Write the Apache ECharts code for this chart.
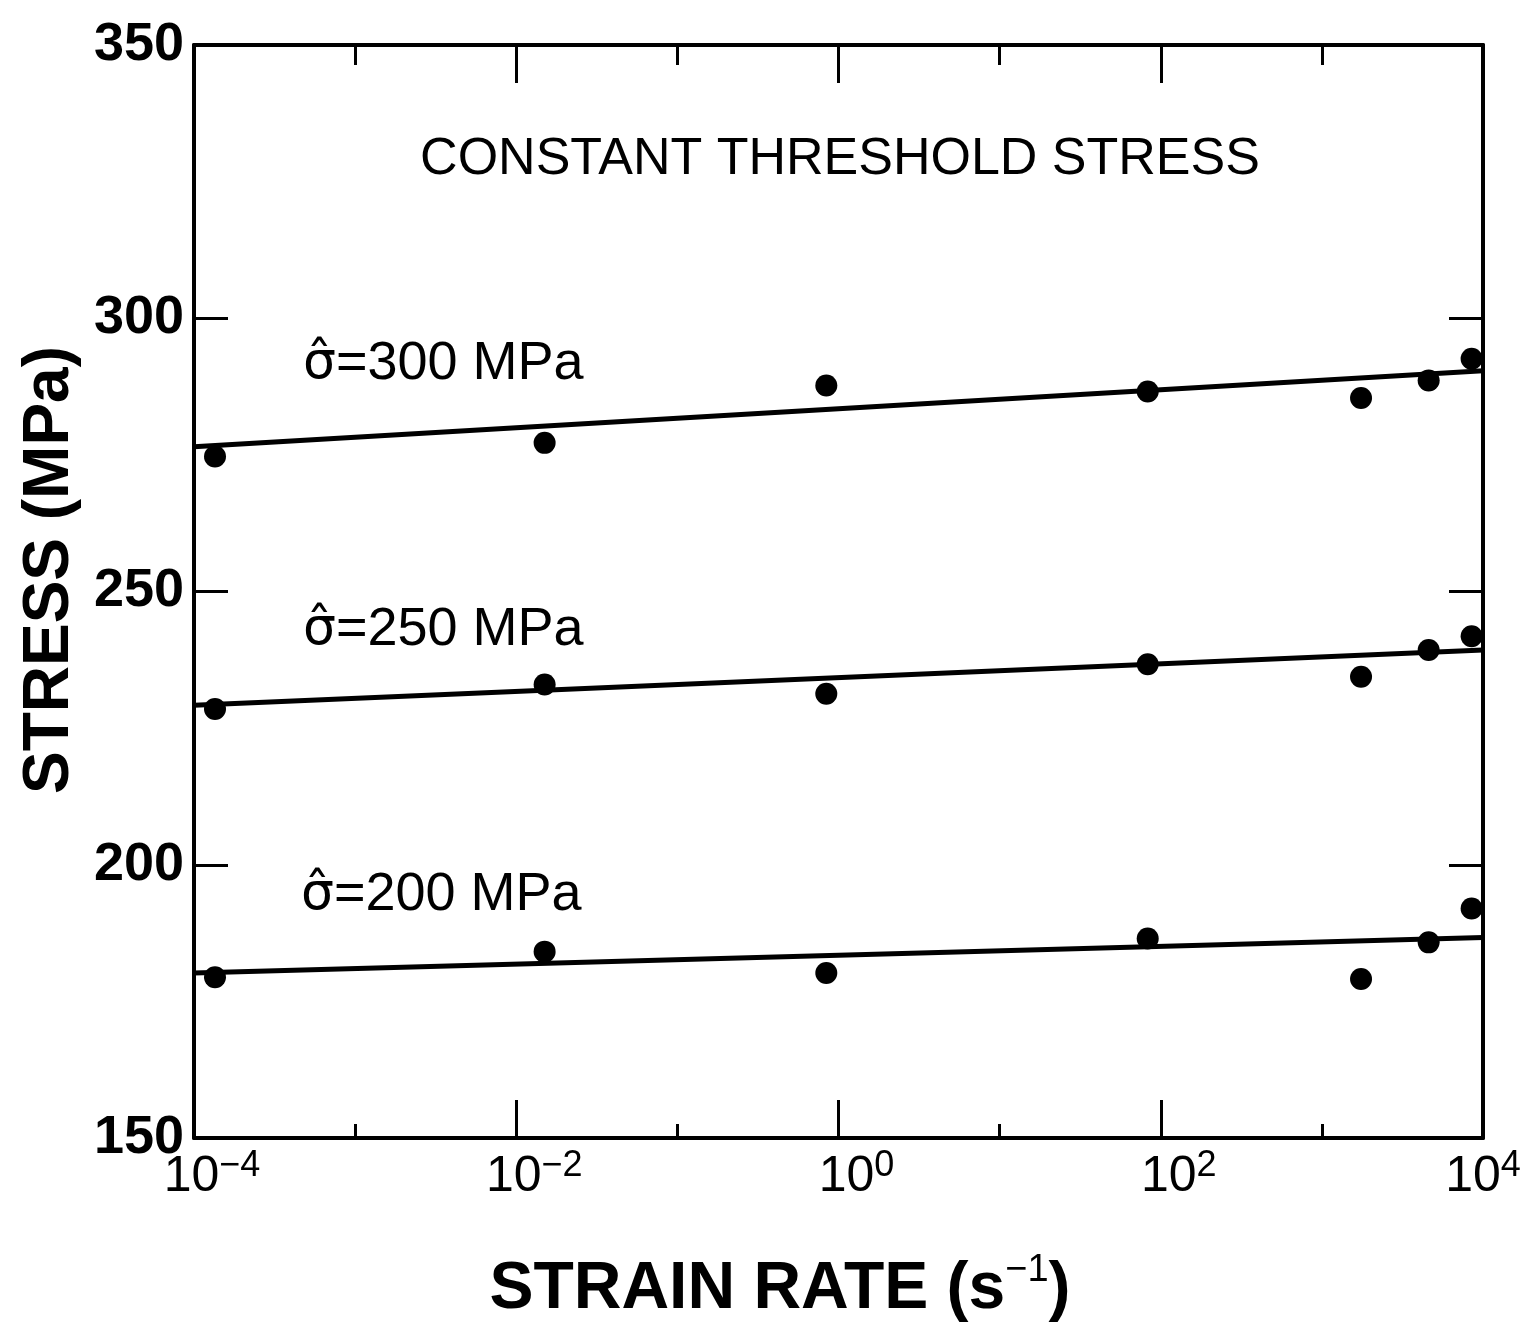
<!DOCTYPE html>
<html><head><meta charset="utf-8">
<script src="https://cdn.jsdelivr.net/npm/echarts@6.0.0/dist/echarts.min.js"></script>
<style>html,body{margin:0;padding:0;background:#fff}#c{width:1525px;height:1328px}</style>
</head><body><div id="c"></div>
<script>
// ---- data ----
const strainRates = [1.35e-4, 0.015, 0.84, 83, 1750, 4600, 8500];
const stress300 = [274.7, 277.2, 287.7, 286.6, 285.4, 288.6, 292.6];
const stress250 = [228.5, 233.0, 231.3, 236.7, 234.4, 239.3, 241.8];
const stress200 = [179.4, 184.1, 180.2, 186.5, 179.1, 185.8, 192.0];
const fitRates = [1e-4, 1e4];
const fit300 = [276.5, 290.4];
const fit250 = [229.2, 239.3];
const fit200 = [180.2, 186.7];
const sigmaHat = 'σ̂';
const seriesLabels = ['=300 MPa', '=250 MPa', '=200 MPa'];
const titleText = 'CONSTANT THRESHOLD STRESS';
const yName = 'STRESS (MPa)';
const xNameMain = 'STRAIN RATE (s';
const xNameSup = '−1';

const FONT = '"Liberation Sans", Arial, Helvetica, sans-serif';
const chart = echarts.init(document.getElementById('c'), null, {renderer: 'canvas'});

function pairs(xs, ys) { return xs.map((x, i) => [x, ys[i]]); }
function expLabel(v) {
  const e = Math.round(Math.log10(v));
  const lead = e >= 4 ? '' : '{p|}';
  return lead + '{b|10}{s|' + (e < 0 ? '−' + (-e) : String(e)) + '}';
}
const lineStyleAxis = {color: '#000', width: 4};
const grid = {left: 194, top: 45, width: 1289, height: 1093, containLabel: false, outerBoundsMode: 'none'};

function scatter(data) {
  return {type: 'scatter', xAxisIndex: 0, yAxisIndex: 0, data: data, symbol: 'circle',
    symbolSize: 22, itemStyle: {color: '#000', opacity: 1}, z: 5};
}
function fitLine(data) {
  return {type: 'line', xAxisIndex: 0, yAxisIndex: 0, data: data, showSymbol: false, symbol: 'none',
    lineStyle: {color: '#000', width: 5}, z: 4, silent: true};
}
function seriesLabel(text, x, y) {
  return {type: 'text', x: x, y: y,
    style: {text: '{g|' + sigmaHat + '}{t|' + text + '}', x: 0, y: 0, textAlign: 'left', textVerticalAlign: 'middle',
      rich: {
        g: {fontFamily: '"DejaVu Sans", sans-serif', fontSize: 52, fill: '#000', lineHeight: 64},
        t: {fontFamily: FONT, fontSize: 54, fill: '#000', lineHeight: 64}
      }}};
}

const option = {
  animation: false,
  backgroundColor: '#fff',
  grid: grid,
  xAxis: [
    {type: 'log', logBase: 100, min: 1e-4, max: 1e4, position: 'bottom',
      axisLine: {show: true, lineStyle: lineStyleAxis},
      axisTick: {show: true, inside: true, length: 38, lineStyle: {color: '#000', width: 3}},
      splitLine: {show: false},
      axisLabel: {show: true, margin: 10, formatter: expLabel, hideOverlap: false,
        rich: {
          p: {width: 36, lineHeight: 58},
          b: {fontFamily: FONT, fontSize: 50, lineHeight: 58, color: '#000'},
          s: {fontFamily: FONT, fontSize: 36, lineHeight: 36, verticalAlign: 'top', color: '#000'}
        }}},
    {type: 'log', logBase: 10, min: 1e-4, max: 1e4, interval: 1, splitNumber: 8, position: 'bottom',
      axisLine: {show: false},
      axisTick: {show: true, inside: true, length: 14, lineStyle: {color: '#000', width: 3}},
      splitLine: {show: false}, axisLabel: {show: false}},
    {type: 'log', logBase: 100, min: 1e-4, max: 1e4, position: 'top',
      axisLine: {show: true, lineStyle: lineStyleAxis},
      axisTick: {show: true, inside: true, length: 38, lineStyle: {color: '#000', width: 3}},
      splitLine: {show: false}, axisLabel: {show: false}},
    {type: 'log', logBase: 10, min: 1e-4, max: 1e4, interval: 1, splitNumber: 8, position: 'top',
      axisLine: {show: false},
      axisTick: {show: true, inside: true, length: 20, lineStyle: {color: '#000', width: 3}},
      splitLine: {show: false}, axisLabel: {show: false}}
  ],
  yAxis: [
    {type: 'value', min: 150, max: 350, interval: 50, position: 'left',
      axisLine: {show: true, lineStyle: lineStyleAxis},
      axisTick: {show: true, inside: true, length: 34, lineStyle: {color: '#000', width: 3}},
      splitLine: {show: false},
      axisLabel: {show: true, margin: 10, fontFamily: FONT, fontSize: 54, fontWeight: 'bold', color: '#000'}},
    {type: 'value', min: 150, max: 350, interval: 50, position: 'right',
      axisLine: {show: true, lineStyle: lineStyleAxis},
      axisTick: {show: true, inside: true, length: 34, lineStyle: {color: '#000', width: 3}},
      splitLine: {show: false}, axisLabel: {show: false}}
  ],
  series: [
    fitLine(pairs(fitRates, fit300)),
    fitLine(pairs(fitRates, fit250)),
    fitLine(pairs(fitRates, fit200)),
    scatter(pairs(strainRates, stress300)),
    scatter(pairs(strainRates, stress250)),
    scatter(pairs(strainRates, stress200))
  ],
  graphic: [
    {type: 'text', x: 840, y: 160,
      style: {text: titleText, x: 0, y: 0, fontFamily: FONT, fontSize: 52,
        fill: '#000', textAlign: 'center', textVerticalAlign: 'middle'}},
    seriesLabel(seriesLabels[0], 303, 364),
    seriesLabel(seriesLabels[1], 303, 630),
    seriesLabel(seriesLabels[2], 301, 895),
    {type: 'text', rotation: Math.PI / 2, x: 50, y: 570,
      style: {text: yName, x: 0, y: 0, fontFamily: FONT, fontSize: 64, fontWeight: 'bold',
        fill: '#000', textAlign: 'center', textVerticalAlign: 'middle'}},
    {type: 'text', x: 780, y: 1290,
      style: {text: '{m|' + xNameMain + '}{s|' + xNameSup + '}{m|)}', x: 0, y: 0,
        textAlign: 'center', textVerticalAlign: 'middle',
        rich: {
          m: {fontFamily: FONT, fontSize: 66, fontWeight: 'bold', fill: '#000', lineHeight: 76},
          s: {fontFamily: FONT, fontSize: 38, fill: '#000', lineHeight: 40, verticalAlign: 'top'}
        }}}
  ]
};
chart.setOption(option);
</script>
</body></html>
